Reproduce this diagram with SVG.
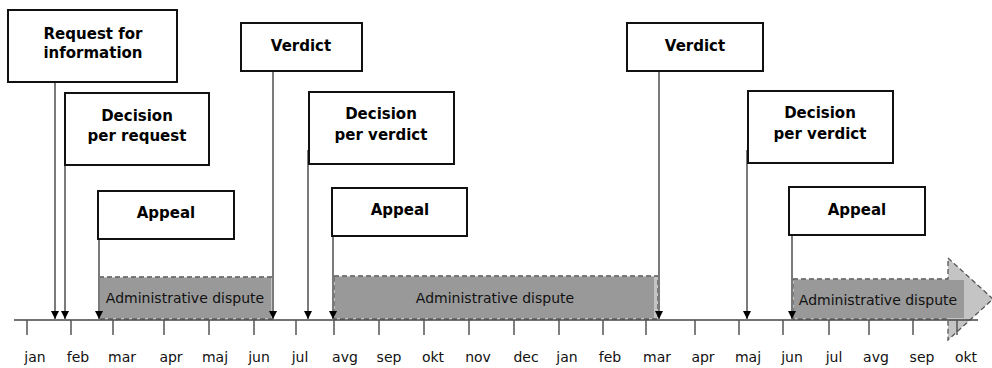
<svg xmlns="http://www.w3.org/2000/svg" width="992" height="368" viewBox="0 0 992 368">
<style>
.box{fill:#fff;stroke:#111;stroke-width:2}
.bt{font-family:"DejaVu Sans",Verdana,sans-serif;font-weight:bold;font-size:15px;fill:#000;text-anchor:middle}
.mt{font-family:"DejaVu Sans",Verdana,sans-serif;font-size:14px;fill:#111;text-anchor:middle}
.dt{font-family:"DejaVu Sans",Verdana,sans-serif;font-size:14px;fill:#111;text-anchor:middle}
.con{stroke:#7a7a7a;stroke-width:2;fill:none;marker-end:url(#ah)}
.tick{stroke:#555;stroke-width:1.5}
.outer{fill:#c4c4c4;stroke:#555;stroke-width:1.3;stroke-dasharray:5,3}
.inner{fill:#999}
</style>
<defs>
<marker id="ah" markerUnits="userSpaceOnUse" viewBox="0 0 8 8" refX="8" refY="4" markerWidth="8" markerHeight="8" orient="auto">
<path d="M0,0 L8,4 L0,8 z" fill="#000"/>
</marker>
</defs>
<rect width="992" height="368" fill="#fff"/>

<g id="dispute1">
<rect class="outer" x="99" y="277" width="174" height="42"/>
<rect class="inner" x="100" y="278" width="171" height="40"/>
<text class="dt" x="185" y="303">Administrative dispute</text>
</g>
<g id="dispute2">
<rect class="outer" x="334" y="276" width="324" height="43"/>
<rect class="inner" x="335" y="277" width="319" height="41"/>
<text class="dt" x="495" y="303">Administrative dispute</text>
</g>
<g id="dispute3">
<polygon class="outer" points="793,279 948,279 948,258 993,299 948,340 948,319 793,319"/>
<rect class="inner" x="794" y="280" width="170" height="38"/>
<text class="dt" x="878" y="305">Administrative dispute</text>
</g>

<g id="axis">
<line x1="14" y1="320" x2="978" y2="320" stroke="#444" stroke-width="1.6"/>
<line class="tick" x1="27" y1="320" x2="27" y2="335"/>
<line class="tick" x1="71" y1="320" x2="71" y2="335"/>
<line class="tick" x1="113" y1="320" x2="113" y2="335"/>
<line class="tick" x1="164" y1="320" x2="164" y2="335"/>
<line class="tick" x1="209" y1="320" x2="209" y2="335"/>
<line class="tick" x1="254" y1="320" x2="254" y2="335"/>
<line class="tick" x1="296" y1="320" x2="296" y2="335"/>
<line class="tick" x1="334" y1="320" x2="334" y2="335"/>
<line class="tick" x1="379" y1="320" x2="379" y2="335"/>
<line class="tick" x1="424" y1="320" x2="424" y2="335"/>
<line class="tick" x1="469" y1="320" x2="469" y2="335"/>
<line class="tick" x1="514" y1="320" x2="514" y2="335"/>
<line class="tick" x1="559" y1="320" x2="559" y2="335"/>
<line class="tick" x1="603" y1="320" x2="603" y2="335"/>
<line class="tick" x1="646" y1="320" x2="646" y2="335"/>
<line class="tick" x1="695" y1="320" x2="695" y2="335"/>
<line class="tick" x1="739" y1="320" x2="739" y2="335"/>
<line class="tick" x1="783" y1="320" x2="783" y2="335"/>
<line class="tick" x1="829" y1="320" x2="829" y2="335"/>
<line class="tick" x1="869" y1="320" x2="869" y2="335"/>
<line class="tick" x1="913" y1="320" x2="913" y2="335"/>
<line class="tick" x1="957" y1="320" x2="957" y2="335"/>
<text class="mt" x="35" y="362">jan</text>
<text class="mt" x="78" y="362">feb</text>
<text class="mt" x="122" y="362">mar</text>
<text class="mt" x="171" y="362">apr</text>
<text class="mt" x="215" y="362">maj</text>
<text class="mt" x="259" y="362">jun</text>
<text class="mt" x="300" y="362">jul</text>
<text class="mt" x="345" y="362">avg</text>
<text class="mt" x="389" y="362">sep</text>
<text class="mt" x="433" y="362">okt</text>
<text class="mt" x="478" y="362">nov</text>
<text class="mt" x="526" y="362">dec</text>
<text class="mt" x="567" y="362">jan</text>
<text class="mt" x="610" y="362">feb</text>
<text class="mt" x="657" y="362">mar</text>
<text class="mt" x="703" y="362">apr</text>
<text class="mt" x="748" y="362">maj</text>
<text class="mt" x="792" y="362">jun</text>
<text class="mt" x="834" y="362">jul</text>
<text class="mt" x="876" y="362">avg</text>
<text class="mt" x="922" y="362">sep</text>
<text class="mt" x="966" y="362">okt</text>
</g>

<g id="connectors">
<path class="con" d="M55,82 V319"/>
<path class="con" d="M65,165 V319"/>
<path class="con" d="M99,239 V319"/>
<path class="con" d="M273,71 V319"/>
<path class="con" d="M308,150 V319"/>
<path class="con" d="M333,236 V319"/>
<path class="con" d="M659,71 V319"/>
<path class="con" d="M747,150 V319"/>
<path class="con" d="M792,235 V319"/>
</g>

<g id="request">
<rect class="box" x="8" y="10" width="169" height="72"/>
<text class="bt" x="93" y="39">Request for</text>
<text class="bt" x="93" y="58">information</text>
</g>
<g id="decision-request">
<rect class="box" x="65" y="93" width="144" height="72"/>
<text class="bt" x="137" y="121">Decision</text>
<text class="bt" x="137" y="141">per request</text>
</g>
<g id="appeal1">
<rect class="box" x="98" y="191" width="136" height="48"/>
<text class="bt" x="166" y="218">Appeal</text>
</g>
<g id="verdict1">
<rect class="box" x="241" y="23" width="121" height="48"/>
<text class="bt" x="301" y="51">Verdict</text>
</g>
<g id="decision-verdict1">
<rect class="box" x="309" y="92" width="145" height="72"/>
<text class="bt" x="381" y="119">Decision</text>
<text class="bt" x="381" y="140">per verdict</text>
</g>
<g id="appeal2">
<rect class="box" x="332" y="188" width="135" height="48"/>
<text class="bt" x="400" y="215">Appeal</text>
</g>
<g id="verdict2">
<rect class="box" x="627" y="23" width="136" height="48"/>
<text class="bt" x="695" y="51">Verdict</text>
</g>
<g id="decision-verdict2">
<rect class="box" x="748" y="91" width="145" height="72"/>
<text class="bt" x="820" y="118">Decision</text>
<text class="bt" x="820" y="139">per verdict</text>
</g>
<g id="appeal3">
<rect class="box" x="789" y="187" width="136" height="48"/>
<text class="bt" x="857" y="215">Appeal</text>
</g>
</svg>
